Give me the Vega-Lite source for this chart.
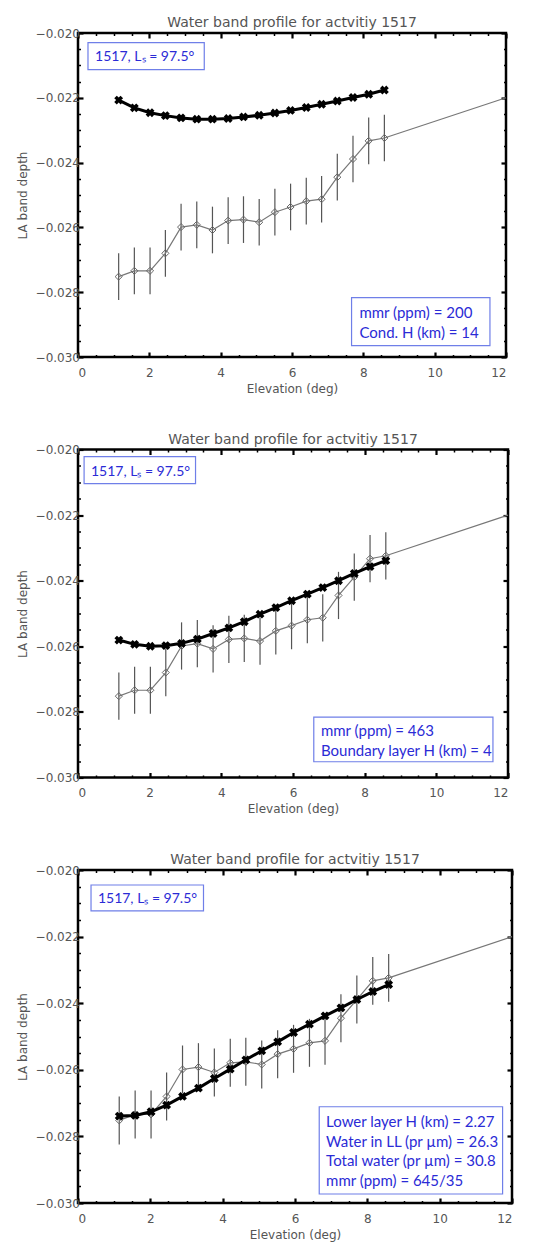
{
  "$schema": "https://vega.github.io/schema/vega-lite/v6.json",
  "padding": {"left": 14, "top": 14, "right": 5, "bottom": 0},
  "spacing": 34.5,
  "config": {
    "view": {"stroke": "black", "strokeWidth": 2.5},
    "axis": {"domain": false, "grid": false, "tickColor": "black", "labelColor": "#555", "titleColor": "#555", "labelFont": "DejaVu Sans", "titleFont": "DejaVu Sans", "labelFontSize": 12, "titleFontSize": 12, "titleFontWeight": "normal"},
    "title": {"font": "DejaVu Sans", "fontSize": 14, "fontWeight": "normal", "color": "#555", "offset": -3}
  },
  "datasets": {
    "obs": [
      {"elev": 1.14, "depth": -0.02752, "lo": -0.02824, "hi": -0.02680},
      {"elev": 1.58, "depth": -0.02734, "lo": -0.02806, "hi": -0.02662},
      {"elev": 2.02, "depth": -0.02734, "lo": -0.02806, "hi": -0.02662},
      {"elev": 2.45, "depth": -0.02680, "lo": -0.02752, "hi": -0.02608},
      {"elev": 2.89, "depth": -0.02599, "lo": -0.02671, "hi": -0.02527},
      {"elev": 3.33, "depth": -0.02592, "lo": -0.02664, "hi": -0.02520},
      {"elev": 3.77, "depth": -0.02608, "lo": -0.02680, "hi": -0.02536},
      {"elev": 4.21, "depth": -0.02579, "lo": -0.02651, "hi": -0.02507},
      {"elev": 4.64, "depth": -0.02576, "lo": -0.02648, "hi": -0.02504},
      {"elev": 5.08, "depth": -0.02584, "lo": -0.02656, "hi": -0.02512},
      {"elev": 5.52, "depth": -0.02553, "lo": -0.02625, "hi": -0.02481},
      {"elev": 5.96, "depth": -0.02537, "lo": -0.02609, "hi": -0.02465},
      {"elev": 6.40, "depth": -0.02519, "lo": -0.02591, "hi": -0.02447},
      {"elev": 6.83, "depth": -0.02513, "lo": -0.02585, "hi": -0.02441},
      {"elev": 7.27, "depth": -0.02445, "lo": -0.02517, "hi": -0.02373},
      {"elev": 7.71, "depth": -0.02389, "lo": -0.02461, "hi": -0.02317},
      {"elev": 8.15, "depth": -0.02333, "lo": -0.02405, "hi": -0.02261},
      {"elev": 8.59, "depth": -0.02324, "lo": -0.02396, "hi": -0.02252}
    ],
    "ext": [
      {"elev": 8.59, "depth": -0.02324},
      {"elev": 12, "depth": -0.02200}
    ],
    "model": [
      {"panel": 1, "elev": 1.14, "depth": -0.02207}, {"panel": 1, "elev": 1.58, "depth": -0.02231}, {"panel": 1, "elev": 2.02, "depth": -0.02246}, {"panel": 1, "elev": 2.45, "depth": -0.02255}, {"panel": 1, "elev": 2.89, "depth": -0.02262}, {"panel": 1, "elev": 3.33, "depth": -0.02266}, {"panel": 1, "elev": 3.77, "depth": -0.02266}, {"panel": 1, "elev": 4.21, "depth": -0.02264}, {"panel": 1, "elev": 4.64, "depth": -0.02259}, {"panel": 1, "elev": 5.08, "depth": -0.02254}, {"panel": 1, "elev": 5.52, "depth": -0.02247}, {"panel": 1, "elev": 5.96, "depth": -0.02239}, {"panel": 1, "elev": 6.40, "depth": -0.02230}, {"panel": 1, "elev": 6.83, "depth": -0.02220}, {"panel": 1, "elev": 7.27, "depth": -0.02210}, {"panel": 1, "elev": 7.71, "depth": -0.02199}, {"panel": 1, "elev": 8.15, "depth": -0.02189}, {"panel": 1, "elev": 8.59, "depth": -0.02176},
      {"panel": 2, "elev": 1.14, "depth": -0.02581}, {"panel": 2, "elev": 1.58, "depth": -0.02594}, {"panel": 2, "elev": 2.02, "depth": -0.02600}, {"panel": 2, "elev": 2.45, "depth": -0.02598}, {"panel": 2, "elev": 2.89, "depth": -0.02591}, {"panel": 2, "elev": 3.33, "depth": -0.02578}, {"panel": 2, "elev": 3.77, "depth": -0.02561}, {"panel": 2, "elev": 4.21, "depth": -0.02544}, {"panel": 2, "elev": 4.64, "depth": -0.02525}, {"panel": 2, "elev": 5.08, "depth": -0.02502}, {"panel": 2, "elev": 5.52, "depth": -0.02482}, {"panel": 2, "elev": 5.96, "depth": -0.02461}, {"panel": 2, "elev": 6.40, "depth": -0.02441}, {"panel": 2, "elev": 6.83, "depth": -0.02421}, {"panel": 2, "elev": 7.27, "depth": -0.02400}, {"panel": 2, "elev": 7.71, "depth": -0.02378}, {"panel": 2, "elev": 8.15, "depth": -0.02357}, {"panel": 2, "elev": 8.59, "depth": -0.02339},
      {"panel": 3, "elev": 1.14, "depth": -0.02739}, {"panel": 3, "elev": 1.58, "depth": -0.02737}, {"panel": 3, "elev": 2.02, "depth": -0.02726}, {"panel": 3, "elev": 2.45, "depth": -0.02706}, {"panel": 3, "elev": 2.89, "depth": -0.02680}, {"panel": 3, "elev": 3.33, "depth": -0.02655}, {"panel": 3, "elev": 3.77, "depth": -0.02626}, {"panel": 3, "elev": 4.21, "depth": -0.02598}, {"panel": 3, "elev": 4.64, "depth": -0.02570}, {"panel": 3, "elev": 5.08, "depth": -0.02543}, {"panel": 3, "elev": 5.52, "depth": -0.02516}, {"panel": 3, "elev": 5.96, "depth": -0.02488}, {"panel": 3, "elev": 6.40, "depth": -0.02463}, {"panel": 3, "elev": 6.83, "depth": -0.02438}, {"panel": 3, "elev": 7.27, "depth": -0.02414}, {"panel": 3, "elev": 7.71, "depth": -0.02389}, {"panel": 3, "elev": 8.15, "depth": -0.02365}, {"panel": 3, "elev": 8.59, "depth": -0.02344}
    ]
  },
  "vconcat": [
    {
      "width": 428, "height": 324,
      "title": "Water band profile for actvitiy 1517",
      "resolve": {"axis": {"x": "independent", "y": "independent"}},
      "layer": [
        {"data": {"name": "obs"}, "mark": {"type": "rule", "color": "#555", "strokeWidth": 1.2},
         "encoding": {
           "x": {"field": "elev", "type": "quantitative", "scale": {"domain": [0, 12], "nice": false, "zero": false}, "axis": {"orient": "bottom", "title": "Elevation (deg)", "values": [0, 2, 4, 6, 8, 10, 12], "format": "d", "tickSize": -5, "tickWidth": 2.2, "labelPadding": 15, "titlePadding": 5}},
           "y": {"field": "lo", "type": "quantitative", "scale": {"domain": [-0.030, -0.020], "nice": false, "zero": false}, "axis": {"orient": "left", "title": "LA band depth", "values": [-0.030, -0.028, -0.026, -0.024, -0.022, -0.020], "format": ".3f", "tickSize": -5, "tickWidth": 2.2, "labelPadding": 3.5, "titlePadding": 6}},
           "y2": {"field": "hi"}
         }},
        {"data": {"name": "obs"}, "mark": {"type": "line", "color": "#777", "strokeWidth": 1.2},
         "encoding": {
           "x": {"field": "elev", "type": "quantitative", "scale": {"domain": [0, 12], "nice": false, "zero": false}, "axis": {"orient": "bottom", "title": null, "labels": false, "values": [0.5, 1, 1.5, 2.5, 3, 3.5, 4.5, 5, 5.5, 6.5, 7, 7.5, 8.5, 9, 9.5, 10.5, 11, 11.5], "tickSize": -2.5, "tickWidth": 1.5}},
           "y": {"field": "depth", "type": "quantitative", "scale": {"domain": [-0.030, -0.020], "nice": false, "zero": false}, "axis": {"orient": "left", "title": null, "labels": false, "values": [-0.0295, -0.029, -0.0285, -0.0275, -0.027, -0.0265, -0.0255, -0.025, -0.0245, -0.0235, -0.023, -0.0225, -0.0215, -0.021, -0.0205], "tickSize": -2.5, "tickWidth": 1.5}}
         }},
        {"data": {"name": "ext"}, "mark": {"type": "line", "color": "#777", "strokeWidth": 1.2},
         "encoding": {
           "x": {"field": "elev", "type": "quantitative", "scale": {"domain": [0, 12], "nice": false, "zero": false}, "axis": {"orient": "top", "title": null, "labels": false, "values": [0, 2, 4, 6, 8, 10, 12], "tickSize": -5, "tickWidth": 2.2}},
           "y": {"field": "depth", "type": "quantitative", "scale": {"domain": [-0.030, -0.020], "nice": false, "zero": false}, "axis": {"orient": "right", "title": null, "labels": false, "values": [-0.030, -0.028, -0.026, -0.024, -0.022, -0.020], "tickSize": -5, "tickWidth": 2.2}}
         }},
        {"data": {"name": "obs"}, "mark": {"type": "point", "shape": "diamond", "size": 50, "filled": false, "color": "#666", "strokeWidth": 1, "opacity": 1},
         "encoding": {
           "x": {"field": "elev", "type": "quantitative", "scale": {"domain": [0, 12], "nice": false, "zero": false}, "axis": {"orient": "top", "title": null, "labels": false, "values": [0.5, 1, 1.5, 2.5, 3, 3.5, 4.5, 5, 5.5, 6.5, 7, 7.5, 8.5, 9, 9.5, 10.5, 11, 11.5], "tickSize": -2.5, "tickWidth": 1.5}},
           "y": {"field": "depth", "type": "quantitative", "scale": {"domain": [-0.030, -0.020], "nice": false, "zero": false}, "axis": {"orient": "right", "title": null, "labels": false, "values": [-0.0295, -0.029, -0.0285, -0.0275, -0.027, -0.0265, -0.0255, -0.025, -0.0245, -0.0235, -0.023, -0.0225, -0.0215, -0.021, -0.0205], "tickSize": -2.5, "tickWidth": 1.5}}
         }},
        {"data": {"name": "model"}, "transform": [{"filter": "datum.panel == 1"}], "mark": {"type": "line", "color": "black", "strokeWidth": 3},
         "encoding": {"x": {"field": "elev", "type": "quantitative", "axis": null}, "y": {"field": "depth", "type": "quantitative", "axis": null}}},
        {"data": {"name": "model"}, "transform": [{"filter": "datum.panel == 1"}], "mark": {"type": "point", "shape": "cross", "angle": 45, "size": 80, "filled": true, "color": "black", "opacity": 1},
         "encoding": {"x": {"field": "elev", "type": "quantitative", "axis": null}, "y": {"field": "depth", "type": "quantitative", "axis": null}}},
        {"data": {"values": [{}]}, "mark": {"type": "rect", "fill": "white", "stroke": "#6f7fe8", "strokeWidth": 1.2},
         "encoding": {"x": {"datum": 0.28, "type": "quantitative", "axis": null}, "x2": {"datum": 3.54}, "y": {"datum": -0.0203, "type": "quantitative", "axis": null}, "y2": {"datum": -0.02113}}},
        {"data": {"values": [{}]}, "mark": {"type": "rect", "fill": "white", "stroke": "#6f7fe8", "strokeWidth": 1.2},
         "encoding": {"x": {"datum": 7.67, "type": "quantitative", "axis": null}, "x2": {"datum": 11.55}, "y": {"datum": -0.02817, "type": "quantitative", "axis": null}, "y2": {"datum": -0.02965}}},
        {"data": {"values": [{}]}, "mark": {"type": "text", "text": "1517, Lₛ = 97.5°", "font": "Lato", "fontSize": 14, "color": "#2b2bd6", "align": "left", "baseline": "middle"},
         "encoding": {"x": {"datum": 0.48, "type": "quantitative", "axis": null}, "y": {"datum": -0.02075, "type": "quantitative", "axis": null}}},
        {"data": {"values": [{}]}, "mark": {"type": "text", "text": ["mmr (ppm) = 200", "Cond. H (km) = 14"], "lineHeight": 20, "font": "Lato", "fontSize": 15, "color": "#2b2bd6", "align": "left", "baseline": "middle"},
         "encoding": {"x": {"datum": 7.89, "type": "quantitative", "axis": null}, "y": {"datum": -0.02863, "type": "quantitative", "axis": null}}}
      ]
    },
    {
      "width": 430, "height": 328,
      "title": "Water band profile for actvitiy 1517",
      "resolve": {"axis": {"x": "independent", "y": "independent"}},
      "layer": [
        {"data": {"name": "obs"}, "mark": {"type": "rule", "color": "#555", "strokeWidth": 1.2},
         "encoding": {
           "x": {"field": "elev", "type": "quantitative", "scale": {"domain": [0, 12], "nice": false, "zero": false}, "axis": {"orient": "bottom", "title": "Elevation (deg)", "values": [0, 2, 4, 6, 8, 10, 12], "format": "d", "tickSize": -5, "tickWidth": 2.2, "labelPadding": 15, "titlePadding": 5}},
           "y": {"field": "lo", "type": "quantitative", "scale": {"domain": [-0.030, -0.020], "nice": false, "zero": false}, "axis": {"orient": "left", "title": "LA band depth", "values": [-0.030, -0.028, -0.026, -0.024, -0.022, -0.020], "format": ".3f", "tickSize": -5, "tickWidth": 2.2, "labelPadding": 3.5, "titlePadding": 6}},
           "y2": {"field": "hi"}
         }},
        {"data": {"name": "obs"}, "mark": {"type": "line", "color": "#777", "strokeWidth": 1.2},
         "encoding": {
           "x": {"field": "elev", "type": "quantitative", "scale": {"domain": [0, 12], "nice": false, "zero": false}, "axis": {"orient": "bottom", "title": null, "labels": false, "values": [0.5, 1, 1.5, 2.5, 3, 3.5, 4.5, 5, 5.5, 6.5, 7, 7.5, 8.5, 9, 9.5, 10.5, 11, 11.5], "tickSize": -2.5, "tickWidth": 1.5}},
           "y": {"field": "depth", "type": "quantitative", "scale": {"domain": [-0.030, -0.020], "nice": false, "zero": false}, "axis": {"orient": "left", "title": null, "labels": false, "values": [-0.0295, -0.029, -0.0285, -0.0275, -0.027, -0.0265, -0.0255, -0.025, -0.0245, -0.0235, -0.023, -0.0225, -0.0215, -0.021, -0.0205], "tickSize": -2.5, "tickWidth": 1.5}}
         }},
        {"data": {"name": "ext"}, "mark": {"type": "line", "color": "#777", "strokeWidth": 1.2},
         "encoding": {
           "x": {"field": "elev", "type": "quantitative", "scale": {"domain": [0, 12], "nice": false, "zero": false}, "axis": {"orient": "top", "title": null, "labels": false, "values": [0, 2, 4, 6, 8, 10, 12], "tickSize": -5, "tickWidth": 2.2}},
           "y": {"field": "depth", "type": "quantitative", "scale": {"domain": [-0.030, -0.020], "nice": false, "zero": false}, "axis": {"orient": "right", "title": null, "labels": false, "values": [-0.030, -0.028, -0.026, -0.024, -0.022, -0.020], "tickSize": -5, "tickWidth": 2.2}}
         }},
        {"data": {"name": "obs"}, "mark": {"type": "point", "shape": "diamond", "size": 50, "filled": false, "color": "#666", "strokeWidth": 1, "opacity": 1},
         "encoding": {
           "x": {"field": "elev", "type": "quantitative", "scale": {"domain": [0, 12], "nice": false, "zero": false}, "axis": {"orient": "top", "title": null, "labels": false, "values": [0.5, 1, 1.5, 2.5, 3, 3.5, 4.5, 5, 5.5, 6.5, 7, 7.5, 8.5, 9, 9.5, 10.5, 11, 11.5], "tickSize": -2.5, "tickWidth": 1.5}},
           "y": {"field": "depth", "type": "quantitative", "scale": {"domain": [-0.030, -0.020], "nice": false, "zero": false}, "axis": {"orient": "right", "title": null, "labels": false, "values": [-0.0295, -0.029, -0.0285, -0.0275, -0.027, -0.0265, -0.0255, -0.025, -0.0245, -0.0235, -0.023, -0.0225, -0.0215, -0.021, -0.0205], "tickSize": -2.5, "tickWidth": 1.5}}
         }},
        {"data": {"name": "model"}, "transform": [{"filter": "datum.panel == 2"}], "mark": {"type": "line", "color": "black", "strokeWidth": 3},
         "encoding": {"x": {"field": "elev", "type": "quantitative", "axis": null}, "y": {"field": "depth", "type": "quantitative", "axis": null}}},
        {"data": {"name": "model"}, "transform": [{"filter": "datum.panel == 2"}], "mark": {"type": "point", "shape": "cross", "angle": 45, "size": 80, "filled": true, "color": "black", "opacity": 1},
         "encoding": {"x": {"field": "elev", "type": "quantitative", "axis": null}, "y": {"field": "depth", "type": "quantitative", "axis": null}}},
        {"data": {"values": [{}]}, "mark": {"type": "rect", "fill": "white", "stroke": "#6f7fe8", "strokeWidth": 1.2},
         "encoding": {"x": {"datum": 0.17, "type": "quantitative", "axis": null}, "x2": {"datum": 3.28}, "y": {"datum": -0.02022, "type": "quantitative", "axis": null}, "y2": {"datum": -0.02104}}},
        {"data": {"values": [{}]}, "mark": {"type": "rect", "fill": "white", "stroke": "#6f7fe8", "strokeWidth": 1.2},
         "encoding": {"x": {"datum": 6.58, "type": "quantitative", "axis": null}, "x2": {"datum": 11.58}, "y": {"datum": -0.02816, "type": "quantitative", "axis": null}, "y2": {"datum": -0.02952}}},
        {"data": {"values": [{}]}, "mark": {"type": "text", "text": "1517, Lₛ = 97.5°", "font": "Lato", "fontSize": 14, "color": "#2b2bd6", "align": "left", "baseline": "middle"},
         "encoding": {"x": {"datum": 0.36, "type": "quantitative", "axis": null}, "y": {"datum": -0.0207, "type": "quantitative", "axis": null}}},
        {"data": {"values": [{}]}, "mark": {"type": "text", "text": ["mmr (ppm) = 463", "Boundary layer H (km) = 4"], "lineHeight": 20, "font": "Lato", "fontSize": 15, "color": "#2b2bd6", "align": "left", "baseline": "middle"},
         "encoding": {"x": {"datum": 6.78, "type": "quantitative", "axis": null}, "y": {"datum": -0.02858, "type": "quantitative", "axis": null}}}
      ]
    },
    {
      "width": 434, "height": 333,
      "title": "Water band profile for actvitiy 1517",
      "resolve": {"axis": {"x": "independent", "y": "independent"}},
      "layer": [
        {"data": {"name": "obs"}, "mark": {"type": "rule", "color": "#555", "strokeWidth": 1.2},
         "encoding": {
           "x": {"field": "elev", "type": "quantitative", "scale": {"domain": [0, 12], "nice": false, "zero": false}, "axis": {"orient": "bottom", "title": "Elevation (deg)", "values": [0, 2, 4, 6, 8, 10, 12], "format": "d", "tickSize": -5, "tickWidth": 2.2, "labelPadding": 15, "titlePadding": 5}},
           "y": {"field": "lo", "type": "quantitative", "scale": {"domain": [-0.030, -0.020], "nice": false, "zero": false}, "axis": {"orient": "left", "title": "LA band depth", "values": [-0.030, -0.028, -0.026, -0.024, -0.022, -0.020], "format": ".3f", "tickSize": -5, "tickWidth": 2.2, "labelPadding": 3.5, "titlePadding": 6}},
           "y2": {"field": "hi"}
         }},
        {"data": {"name": "obs"}, "mark": {"type": "line", "color": "#777", "strokeWidth": 1.2},
         "encoding": {
           "x": {"field": "elev", "type": "quantitative", "scale": {"domain": [0, 12], "nice": false, "zero": false}, "axis": {"orient": "bottom", "title": null, "labels": false, "values": [0.5, 1, 1.5, 2.5, 3, 3.5, 4.5, 5, 5.5, 6.5, 7, 7.5, 8.5, 9, 9.5, 10.5, 11, 11.5], "tickSize": -2.5, "tickWidth": 1.5}},
           "y": {"field": "depth", "type": "quantitative", "scale": {"domain": [-0.030, -0.020], "nice": false, "zero": false}, "axis": {"orient": "left", "title": null, "labels": false, "values": [-0.0295, -0.029, -0.0285, -0.0275, -0.027, -0.0265, -0.0255, -0.025, -0.0245, -0.0235, -0.023, -0.0225, -0.0215, -0.021, -0.0205], "tickSize": -2.5, "tickWidth": 1.5}}
         }},
        {"data": {"name": "ext"}, "mark": {"type": "line", "color": "#777", "strokeWidth": 1.2},
         "encoding": {
           "x": {"field": "elev", "type": "quantitative", "scale": {"domain": [0, 12], "nice": false, "zero": false}, "axis": {"orient": "top", "title": null, "labels": false, "values": [0, 2, 4, 6, 8, 10, 12], "tickSize": -5, "tickWidth": 2.2}},
           "y": {"field": "depth", "type": "quantitative", "scale": {"domain": [-0.030, -0.020], "nice": false, "zero": false}, "axis": {"orient": "right", "title": null, "labels": false, "values": [-0.030, -0.028, -0.026, -0.024, -0.022, -0.020], "tickSize": -5, "tickWidth": 2.2}}
         }},
        {"data": {"name": "obs"}, "mark": {"type": "point", "shape": "diamond", "size": 50, "filled": false, "color": "#666", "strokeWidth": 1, "opacity": 1},
         "encoding": {
           "x": {"field": "elev", "type": "quantitative", "scale": {"domain": [0, 12], "nice": false, "zero": false}, "axis": {"orient": "top", "title": null, "labels": false, "values": [0.5, 1, 1.5, 2.5, 3, 3.5, 4.5, 5, 5.5, 6.5, 7, 7.5, 8.5, 9, 9.5, 10.5, 11, 11.5], "tickSize": -2.5, "tickWidth": 1.5}},
           "y": {"field": "depth", "type": "quantitative", "scale": {"domain": [-0.030, -0.020], "nice": false, "zero": false}, "axis": {"orient": "right", "title": null, "labels": false, "values": [-0.0295, -0.029, -0.0285, -0.0275, -0.027, -0.0265, -0.0255, -0.025, -0.0245, -0.0235, -0.023, -0.0225, -0.0215, -0.021, -0.0205], "tickSize": -2.5, "tickWidth": 1.5}}
         }},
        {"data": {"name": "model"}, "transform": [{"filter": "datum.panel == 3"}], "mark": {"type": "line", "color": "black", "strokeWidth": 3},
         "encoding": {"x": {"field": "elev", "type": "quantitative", "axis": null}, "y": {"field": "depth", "type": "quantitative", "axis": null}}},
        {"data": {"name": "model"}, "transform": [{"filter": "datum.panel == 3"}], "mark": {"type": "point", "shape": "cross", "angle": 45, "size": 80, "filled": true, "color": "black", "opacity": 1},
         "encoding": {"x": {"field": "elev", "type": "quantitative", "axis": null}, "y": {"field": "depth", "type": "quantitative", "axis": null}}},
        {"data": {"values": [{}]}, "mark": {"type": "rect", "fill": "white", "stroke": "#6f7fe8", "strokeWidth": 1.2},
         "encoding": {"x": {"datum": 0.36, "type": "quantitative", "axis": null}, "x2": {"datum": 3.47}, "y": {"datum": -0.02045, "type": "quantitative", "axis": null}, "y2": {"datum": -0.02123}}},
        {"data": {"values": [{}]}, "mark": {"type": "rect", "fill": "white", "stroke": "#6f7fe8", "strokeWidth": 1.2},
         "encoding": {"x": {"datum": 6.67, "type": "quantitative", "axis": null}, "x2": {"datum": 11.74}, "y": {"datum": -0.02711, "type": "quantitative", "axis": null}, "y2": {"datum": -0.02973}}},
        {"data": {"values": [{}]}, "mark": {"type": "text", "text": "1517, Lₛ = 97.5°", "font": "Lato", "fontSize": 14, "color": "#2b2bd6", "align": "left", "baseline": "middle"},
         "encoding": {"x": {"datum": 0.55, "type": "quantitative", "axis": null}, "y": {"datum": -0.02087, "type": "quantitative", "axis": null}}},
        {"data": {"values": [{}]}, "mark": {"type": "text", "text": ["Lower layer H (km)  = 2.27", "Water in LL (pr µm) = 26.3", "Total water (pr µm) = 30.8", "mmr (ppm) = 645/35"], "lineHeight": 19.6, "font": "Lato", "fontSize": 15, "color": "#2b2bd6", "align": "left", "baseline": "middle"},
         "encoding": {"x": {"datum": 6.86, "type": "quantitative", "axis": null}, "y": {"datum": -0.02757, "type": "quantitative", "axis": null}}}
      ]
    }
  ]
}
